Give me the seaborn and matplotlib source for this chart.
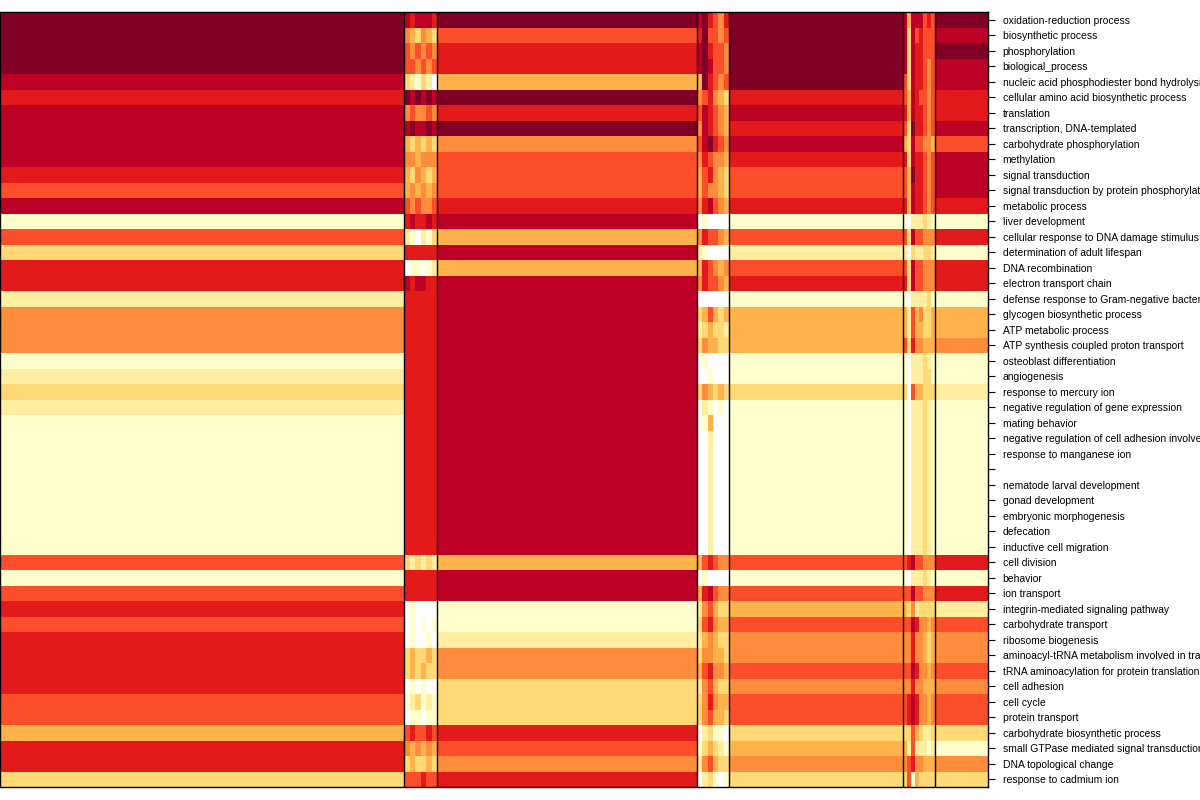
import numpy as np
import pandas as pd
import seaborn as sns
import matplotlib.pyplot as plt
from matplotlib.colors import ListedColormap

plt.rcParams['font.family'] = ['Liberation Sans', 'DejaVu Sans']

terms = [
    "oxidation-reduction process", "biosynthetic process", "phosphorylation",
    "biological_process", "nucleic acid phosphodiester bond hydrolysis",
    "cellular amino acid biosynthetic process", "translation",
    "transcription, DNA-templated", "carbohydrate phosphorylation", "methylation",
    "signal transduction", "signal transduction by protein phosphorylation",
    "metabolic process", "liver development",
    "cellular response to DNA damage stimulus", "determination of adult lifespan",
    "DNA recombination", "electron transport chain",
    "defense response to Gram-negative bacterium", "glycogen biosynthetic process",
    "ATP metabolic process", "ATP synthesis coupled proton transport",
    "osteoblast differentiation", "angiogenesis", "response to mercury ion",
    "negative regulation of gene expression", "mating behavior",
    "negative regulation of cell adhesion involved in substrate-bound cell migration",
    "response to manganese ion", "", "nematode larval development",
    "gonad development", "embryonic morphogenesis", "defecation",
    "inductive cell migration", "cell division", "behavior", "ion transport",
    "integrin-mediated signaling pathway", "carbohydrate transport",
    "ribosome biogenesis",
    "aminoacyl-tRNA metabolism involved in translational fidelity",
    "tRNA aminoacylation for protein translation", "cell adhesion", "cell cycle",
    "protein transport", "carbohydrate biosynthetic process",
    "small GTPase mediated signal transduction", "DNA topological change",
    "response to cadmium ion",
]

# colour level per row (0 = missing/white, 1..9 = YlOrRd classes)
block_a = "9999878888" "7681637725" "5512321111" "1111161676" "7777664773"
block_c = "9677497956" "6678484888" "8888888888" "8888848811" "2553337657"
block_e = "9999978787" "6671626714" "4411311111" "1111161646" "5565663453"
block_g = "9898877868" "8871717714" "4511211111" "1111171726" "5565663153"

# narrow blocks: one string per row, one digit per sub-column
block_b = [
    "878887", "543543", "656565", "665656", "321320", "989898", "565565",
    "898898", "434343", "554555", "435434", "454545", "656556", "787787",
    "210213", "777777", "011012", "878877",
    "777777", "777777", "777777", "777777", "777777", "777777", "777777",
    "777777", "777777", "777777", "777777", "777777", "777777", "777777",
    "777777", "777777", "777777",
    "323232", "777777", "777777", "010000", "010101", "010010", "343343",
    "343433", "010100", "123121", "011011", "676676", "545454", "343343",
    "666766",
]
block_d = [
    "897657", "796656", "897665", "898665", "497656", "567543", "687654",
    "587654", "689765", "576554", "467543", "465543", "578654", "010000",
    "576654", "210000", "476545", "576654", "000000", "346434", "234332",
    "354433", "010000", "001000", "354343", "021010", "014000",
    "002000", "002000", "002000", "002000", "002000", "002000", "002000",
    "002000",
    "467655", "010000", "478655", "256433", "367544", "245433", "355443",
    "467554", "256433", "357544", "356443", "023110", "134321", "256433",
    "023101",
]
block_f = [
    "84888676", "83867666", "83877666", "83877656", "63877656", "64876656",
    "74877656", "63977656", "43866554", "73877656", "64977656", "64877656",
    "74877656", "10222321", "63866555", "20322332", "63866555", "73866555",
    "10222231", "42645334", "42644334", "63755444", "10222321", "10222331",
    "30644333",
    "10222321", "10222321", "10222321", "10222321", "10222321", "10222321",
    "10222321", "10222321", "10222321", "10222321",
    "67866555", "10222321", "66866555", "43523333", "66875545", "55755434",
    "55755434", "66875545", "55755444", "67875545", "67875545", "33643223",
    "42622212", "56755444", "36143333",
]

colors = ['#FFFFFF', '#FFFFCC', '#FFEDA0', '#FED976', '#FEB24C',
          '#FD8D3C', '#FC4E2A', '#E31A1C', '#BD0026', '#800026']

# layout: pixel widths of each block / sub-column
w_a, w_c, w_e, w_g = 404, 260, 174, 53
w_b = [6, 5, 6, 5, 6, 5]
w_d = [5, 6, 5, 5, 6, 5]
w_f = [4] * 8


def wide(s):
    return [int(c) for c in s]


def narrow(rows, j):
    return [int(r[j]) for r in rows]


cols = [(wide(block_a), w_a)]
cols += [(narrow(block_b, j), w) for j, w in enumerate(w_b)]
cols += [(wide(block_c), w_c)]
cols += [(narrow(block_d, j), w) for j, w in enumerate(w_d)]
cols += [(wide(block_e), w_e)]
cols += [(narrow(block_f, j), w) for j, w in enumerate(w_f)]
cols += [(wide(block_g), w_g)]

mat = np.column_stack([np.repeat(np.array(v)[:, None], w, axis=1) for v, w in cols])
df = pd.DataFrame(mat, index=terms)

fig = plt.figure(figsize=(12, 8), dpi=100)
ax = fig.add_axes([0, 13 / 800, 988 / 1200, 775 / 800])
sns.heatmap(df, cmap=ListedColormap(colors), vmin=-0.5, vmax=9.5, cbar=False,
            xticklabels=False, yticklabels=True, ax=ax)

# block separators
bounds = np.cumsum([w_a, sum(w_b), w_c, sum(w_d), w_e, sum(w_f)])
for x in bounds:
    ax.axvline(x, color='black', lw=1)
for s in ax.spines.values():
    s.set_visible(True)
    s.set_color('black')
    s.set_linewidth(1)

ax.yaxis.tick_right()
ax.tick_params(axis='y', left=False, right=True, length=5, width=0.8,
               labelsize=7.5, pad=5.5, labelrotation=0)
ax.set_xlabel('')
ax.set_ylabel('')

fig.savefig('out.png', dpi=100)
